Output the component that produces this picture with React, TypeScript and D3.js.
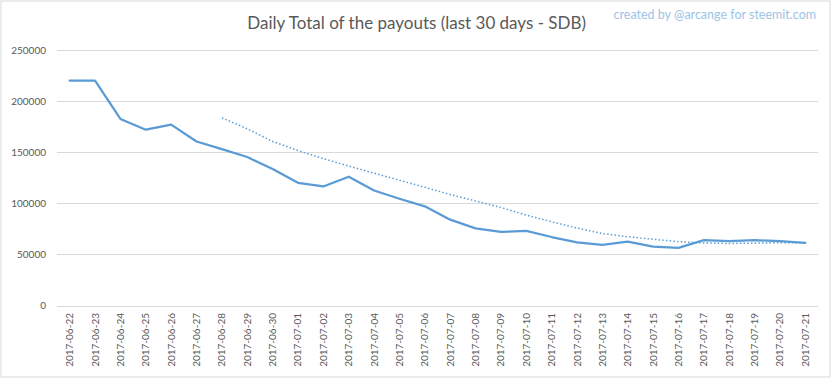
import React from "react";
import * as d3 from "d3";

const dates: string[] = [
  "2017-06-22", "2017-06-23", "2017-06-24", "2017-06-25", "2017-06-26", "2017-06-27",
  "2017-06-28", "2017-06-29", "2017-06-30", "2017-07-01", "2017-07-02", "2017-07-03",
  "2017-07-04", "2017-07-05", "2017-07-06", "2017-07-07", "2017-07-08", "2017-07-09",
  "2017-07-10", "2017-07-11", "2017-07-12", "2017-07-13", "2017-07-14", "2017-07-15",
  "2017-07-16", "2017-07-17", "2017-07-18", "2017-07-19", "2017-07-20", "2017-07-21",
];

const payouts: number[] = [
  220000, 220000, 182500, 172000, 177000, 160500,
  153000, 145300, 133500, 120000, 116500, 126000,
  112500, 104500, 97000, 84000, 75500, 72000,
  73000, 67000, 61800, 59300, 62500, 57700,
  56400, 63900, 63000, 63900, 63000, 61300,
];

// dotted trend line (7-day moving average)
const trend: (number | null)[] = [
  null, null, null, null, null, null,
  183600, 172900, 160500, 151600, 143700, 136400,
  129500, 122600, 115700, 108600, 102300, 95900,
  88400, 81900, 75800, 70400, 67300, 64800,
  62500, 61200, 60700, 61000, 61500, 61300,
];

const yTicks: number[] = [0, 50000, 100000, 150000, 200000, 250000];

const titleText = "Daily Total of the payouts (last 30 days - SDB)";
const creditText = "created by @arcange for steemit.com";

const W = 833;
const H = 379;
const FONT = "Lato, 'Open Sans', sans-serif";

export default function App() {
  const x = d3.scaleBand<string>().domain(dates).range([57, 818]);
  const y = d3.scaleLinear().domain([0, 250000]).range([305.5, 50]);
  const cx = (d: string) => (x(d) as number) + x.bandwidth() / 2;

  const line = d3
    .line<number>()
    .x((_, i) => cx(dates[i]))
    .y((v) => y(v));

  const trendLine = d3
    .line<number | null>()
    .defined((v) => v !== null)
    .x((_, i) => cx(dates[i]))
    .y((v) => y(v as number));

  return (
    <svg
      width={W}
      height={H}
      style={{ position: "absolute", left: 0, top: 0, background: "#fff" }}
      fontFamily={FONT}
    >
      <rect x={1} y={1} width={829} height={376} fill="#fff" stroke="#D9D9D9" strokeWidth={1} />
      <text x={416.7} y={29} textAnchor="middle" fontSize={17} fill="#595959">
        {titleText}
      </text>
      <text x={816} y={19} textAnchor="end" fontSize={12.5} fill="#9DC3E6">
        {creditText}
      </text>
      {yTicks.map((t) => (
        <g key={t}>
          <line x1={57} x2={818} y1={Math.round(y(t)) + 0.5} y2={Math.round(y(t)) + 0.5} stroke="#D9D9D9" strokeWidth={1} />
          <text x={46} y={y(t)} dy="0.35em" textAnchor="end" fontSize={10} fill="#595959">
            {t}
          </text>
        </g>
      ))}
      {dates.map((d) => (
        <text
          key={d}
          transform={`translate(${cx(d)},313) rotate(-90)`}
          textAnchor="end"
          dy="0.35em"
          fontSize={10}
          fill="#595959"
        >
          {d}
        </text>
      ))}
      <path d={trendLine(trend) || ""} fill="none" stroke="#5B9BD5" strokeWidth={1.5} strokeDasharray="1.5 2.2" />
      <path d={line(payouts) || ""} fill="none" stroke="#5B9BD5" strokeWidth={2.25} strokeLinejoin="round" strokeLinecap="round" />
    </svg>
  );
}
